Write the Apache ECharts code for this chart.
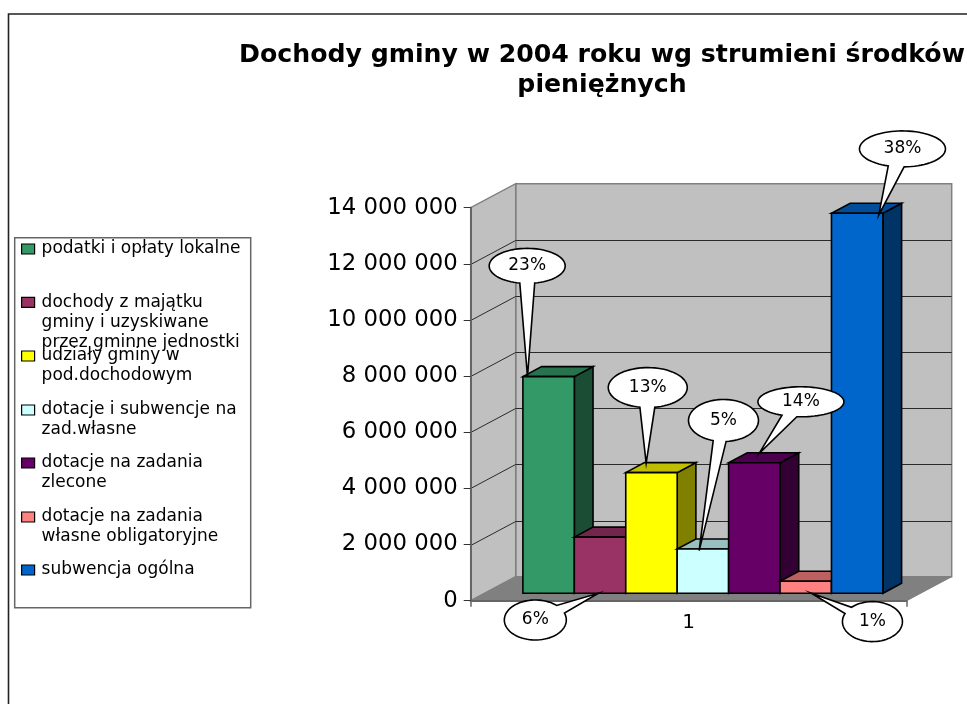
<!DOCTYPE html>
<html><head><meta charset="utf-8">
<style>html,body{margin:0;padding:0;background:#fff}#c{width:967px;height:704px}</style>
<script src="https://cdn.jsdelivr.net/npm/echarts@6/dist/echarts.min.js"></script>
</head><body><div id="c"></div>
<script>
const chartTitle = 'Dochody gminy w 2004 roku wg strumieni środków\npieniężnych';
const categories = ['1'];
const seriesNames = [
  ['podatki i opłaty lokalne'],
  ['dochody z majątku','gminy i uzyskiwane','przez gminne jednostki'],
  ['udziały gminy w','pod.dochodowym'],
  ['dotacje i subwencje na','zad.własne'],
  ['dotacje na zadania','zlecone'],
  ['dotacje na zadania','własne obligatoryjne'],
  ['subwencja ogólna']
];
const barValues = [7720000, 2000000, 4300000, 1580000, 4650000, 430000, 13540000];
const percentLabels = ['23%','6%','13%','5%','14%','1%','38%'];
const barColors = ['#339966','#993366','#FFFF00','#CCFFFF','#660066','#FF8080','#0066CC'];
const yTicks = [0,2000000,4000000,6000000,8000000,10000000,12000000,14000000];

// layout (pixels)
const GRID = {l:470.7, r:906.7, t:207.7, b:600.7};
const WALL = {dx:45, dy:24};
const INSET = {dx:14.2, dy:7.4};
const BAR3D = {dx:18.7, dy:10};
const GROUP_RATIO = 360/436;
const calloutGeom = [
  {at:'top', tx:4.6,  ty:0,    cx:-0.3, cy:-110.7, rx:38,   ry:17.5, hw:7.5},
  {at:'base',tx:24,   ty:0,    cx:-63,  cy:26.7,   rx:31,   ry:20,   hw:5.5},
  {at:'top', tx:20.4, ty:-9.4, cx:1.6,  cy:-75.6,  rx:39.5, ry:20,   hw:7.5},
  {at:'top', tx:22,   ty:1.7,  cx:24.3, cy:-130.2, rx:35,   ry:21,   hw:6.5},
  {at:'top', tx:30.6, ty:-9.4, cx:41.7, cy:-51.6,  rx:43,   ry:15,   hw:7.5},
  {at:'base',tx:31.4, ty:0,    cx:61,   cy:28.3,   rx:30,   ry:20,   hw:4.5},
  {at:'top', tx:47.3, ty:1.7,  cx:23.7, cy:-66,    rx:43,   ry:18,   hw:8}
];
const legendCenters = [249,302.3,356,410,463,517,570];
const WIDE = '"DejaVu Sans"';

const shade = (hex,k)=>{const n=parseInt(hex.slice(1),16);
  return 'rgb('+[(n>>16)&255,(n>>8)&255,n&255].map(c=>Math.round(c*k)).join(',')+')';};
const fullName = i=>seriesNames[i].join(' ');

function barBox(i, value, api){
  const base = api.coord([0,0]), top = api.coord([0,value]);
  const band = api.size([1,0])[0];
  const w = band*GROUP_RATIO/barValues.length;
  const x = base[0] + INSET.dx + (i-barValues.length/2)*w;
  return {x, w, y0: base[1]-INSET.dy, y1: top[1]-INSET.dy};
}

function renderWalls(params, api){
  const c = params.coordSys, x0=c.x, x1=c.x+c.width, y0=c.y+c.height, yt=c.y;
  const kids = [
    {type:'polygon',shape:{points:[[x0+WALL.dx,yt-WALL.dy],[x1+WALL.dx,yt-WALL.dy],[x1+WALL.dx,y0-WALL.dy],[x0+WALL.dx,y0-WALL.dy]]},
      style:{fill:'#C0C0C0',stroke:'#808080',lineWidth:1.5}},
    {type:'polygon',shape:{points:[[x0,y0],[x0+WALL.dx,y0-WALL.dy],[x0+WALL.dx,yt-WALL.dy],[x0,yt]]},
      style:{fill:'#C0C0C0',stroke:'#808080',lineWidth:1.5}},
    {type:'polygon',shape:{points:[[x0,y0],[x1,y0],[x1+WALL.dx,y0-WALL.dy],[x0+WALL.dx,y0-WALL.dy]]},
      style:{fill:'#808080',stroke:'#808080',lineWidth:1}}
  ];
  yTicks.slice(1,-1).forEach(v=>{
    const y = Math.round(api.coord([0,v])[1])+0.5;
    kids.push({type:'polyline',shape:{points:[[x0,y],[x0+WALL.dx,y-WALL.dy],[x1+WALL.dx,y-WALL.dy]]},
      style:{fill:'none',stroke:'#2a2a2a',lineWidth:1}});
  });
  return {type:'group',children:kids};
}

function renderBar(i){
  return function(params, api){
    const b = barBox(i, api.value(1), api), col = barColors[i];
    const line = {stroke:'#000',lineWidth:1.6,lineJoin:'miter'};
    const xr = b.x+b.w;
    return {type:'group',children:[
      {type:'polygon',shape:{points:[[xr,b.y1],[xr+BAR3D.dx,b.y1-BAR3D.dy],[xr+BAR3D.dx,b.y0-BAR3D.dy],[xr,b.y0]]},
        style:Object.assign({fill:shade(col,0.5)},line)},
      {type:'polygon',shape:{points:[[b.x,b.y1],[b.x+BAR3D.dx,b.y1-BAR3D.dy],[xr+BAR3D.dx,b.y1-BAR3D.dy],[xr,b.y1]]},
        style:Object.assign({fill:shade(col,0.75)},line)},
      {type:'polygon',shape:{points:[[b.x,b.y1],[xr,b.y1],[xr,b.y0],[b.x,b.y0]]},
        style:Object.assign({fill:col},line)}
    ]};
  };
}

function renderCallout(params, api){
  const i = params.dataIndex, g = calloutGeom[i];
  const b = barBox(i, api.value(1), api);
  const tx = b.x+g.tx, ty = (g.at==='top'?b.y1:b.y0)+g.ty;
  const cx = tx+g.cx, cy = ty+g.cy;
  const th = Math.atan2((ty-cy)/g.ry,(tx-cx)/g.rx);
  const half = g.hw/Math.hypot(g.rx*Math.sin(th),g.ry*Math.cos(th));
  const pts = [[tx,ty]];
  const N = 72;
  for(let k=0;k<=N;k++){
    const a = th+half+(2*Math.PI-2*half)*k/N;
    pts.push([cx+g.rx*Math.cos(a),cy+g.ry*Math.sin(a)]);
  }
  return {type:'group',children:[
    {type:'polygon',shape:{points:pts},style:{fill:'#fff',stroke:'#000',lineWidth:1.6,lineJoin:'miter'}},
    {type:'text',x:cx,y:cy,style:{text:percentLabels[i],fill:'#000',font:'17px '+WIDE,align:'center',verticalAlign:'middle'}}
  ]};
}

const barSeries = barValues.map((v,i)=>({
  type:'custom',name:fullName(i),coordinateSystem:'cartesian2d',z:5,
  itemStyle:{color:barColors[i]},
  encode:{x:0,y:1},data:[[0,v]],renderItem:renderBar(i),silent:true
}));

const legends = seriesNames.map((lines,i)=>{
  const pad = lines.length-1, h = (2*lines.length-1)*20;
  return {
    left:21, top:legendCenters[i]-h/2, padding:0, orient:'vertical',
    itemWidth:13, itemHeight:10, selectedMode:false, z:6,
    data:[{name:fullName(i),icon:'rect'}],
    itemStyle:{borderColor:'#000',borderWidth:1.2},
    formatter:()=>'\n'.repeat(pad)+lines.join('\n'),
    textStyle:{fontFamily:WIDE,fontSize:17,lineHeight:20,color:'#000',padding:[0,0,0,2]}
  };
});

const chart = echarts.init(document.getElementById('c'),null,{renderer:'canvas'});
chart.setOption({
  animation:false,
  backgroundColor:'#fff',
  title:{text:chartTitle,left:597,top:35,textAlign:'center',
    textStyle:{fontFamily:WIDE,fontWeight:'bold',fontSize:25.2,lineHeight:30,color:'#000'}},
  grid:{left:GRID.l,top:GRID.t,width:GRID.r-GRID.l,height:GRID.b-GRID.t,containLabel:false},
  legend:legends,
  xAxis:{type:'category',data:categories,z:10,
    axisLine:{lineStyle:{color:'#666',width:2}},
    axisTick:{show:true,length:6,lineStyle:{color:'#666',width:1.5}},
    axisLabel:{fontFamily:WIDE,fontSize:20,color:'#000',margin:12},splitLine:{show:false}},
  yAxis:{type:'value',min:0,max:14000000,interval:2000000,z:10,
    axisLine:{show:true,lineStyle:{color:'#666',width:2}},
    axisTick:{show:true,length:7,lineStyle:{color:'#333',width:1}},
    axisLabel:{fontFamily:WIDE,fontSize:22.8,color:'#000',margin:13,
      formatter:v=>String(v).replace(/\B(?=(\d{3})+$)/g,' ')},
    splitLine:{show:false}},
  graphic:[
    {type:'polyline',shape:{points:[[967,14],[8.5,14],[8.5,704]]},style:{fill:'none',stroke:'#222',lineWidth:1.6},z:1},
    {type:'rect',shape:{x:14.7,y:237.7,width:236,height:370},style:{fill:'#fff',stroke:'#666',lineWidth:1.5},z:1}
  ],
  series:[
    {type:'custom',name:'walls',coordinateSystem:'cartesian2d',z:1,silent:true,encode:{x:0,y:1},data:[[0,0]],renderItem:renderWalls},
    ...barSeries,
    {type:'custom',name:'percent',coordinateSystem:'cartesian2d',z:20,silent:true,encode:{x:0,y:1},
      data:barValues.map(v=>[0,v]),renderItem:renderCallout}
  ]
});
</script></body></html>
